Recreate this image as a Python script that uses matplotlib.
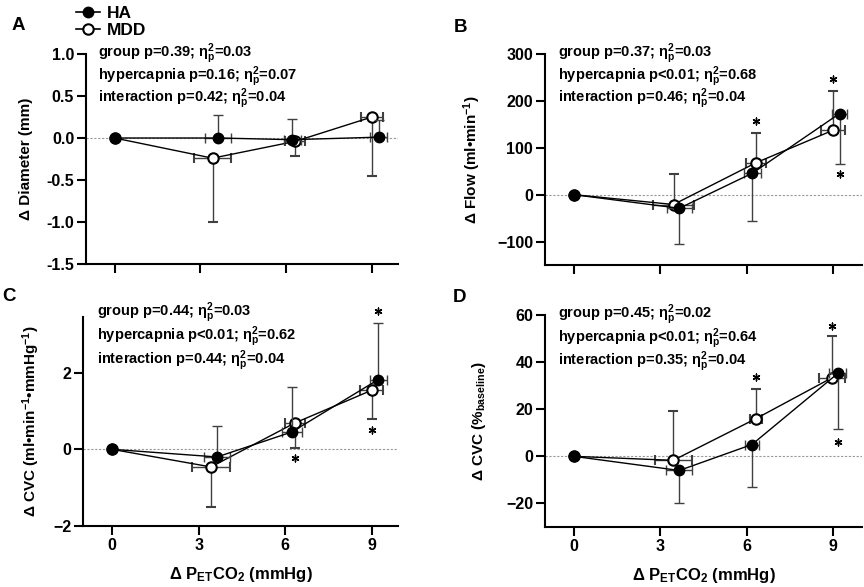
import matplotlib
matplotlib.use("Agg")
import matplotlib.pyplot as plt
from matplotlib.lines import Line2D

plt.rcParams["font.family"] = ["Liberation Sans", "DejaVu Sans"]
plt.rcParams["font.weight"] = "bold"
plt.rcParams["mathtext.fontset"] = "custom"
plt.rcParams["mathtext.rm"] = "Liberation Sans:bold"
plt.rcParams["mathtext.it"] = "Liberation Sans:bold"
plt.rcParams["mathtext.bf"] = "Liberation Sans:bold"
plt.rcParams["mathtext.default"] = "regular"

xticks = [0, 3, 6, 9]

# A: diameter
a_ha_x = [0, 3.62, 6.20, 9.22]
a_ha_y = [0, 0.0, -0.02, 0.01]
a_ha_xerr = [0, 0.46, 0.30, 0.30]
a_ha_up = [0, 0.27, 0.25, 0.20]
a_mdd_x = [0, 3.42, 6.31, 8.99]
a_mdd_y = [0, -0.24, -0.04, 0.25]
a_mdd_xerr = [0, 0.65, 0.35, 0.37]
a_mdd_dn = [0, 0.76, 0.17, 0.70]

# B: flow
b_ha_x = [0, 3.66, 6.20, 9.22]
b_ha_y = [0, -29, 46, 173]
b_ha_xerr = [0, 0.43, 0.30, 0.25]
b_ha_dn = [0, 77, 102, 108]
b_mdd_x = [0, 3.46, 6.32, 8.98]
b_mdd_y = [0, -21, 68, 137]
b_mdd_xerr = [0, 0.70, 0.35, 0.42]
b_mdd_up = [0, 66, 64, 84]
b_star_x = [6.32, 8.98, 9.22]
b_star_y = [157, 246, 45]

# C: CVC absolute
c_ha_x = [0, 3.64, 6.22, 9.22]
c_ha_y = [0, -0.20, 0.45, 1.82]
c_ha_xerr = [0, 0.45, 0.35, 0.30]
c_ha_up = [0, 0.81, 1.18, 1.48]
c_mdd_x = [0, 3.43, 6.34, 8.99]
c_mdd_y = [0, -0.46, 0.69, 1.54]
c_mdd_xerr = [0, 0.67, 0.35, 0.40]
c_mdd_dn = [0, 1.05, 0.66, 0.74]
c_star_x = [6.34, 9.22, 8.99]
c_star_y = [-0.22, 3.6, 0.50]

# D: CVC relative
d_ha_x = [0, 3.66, 6.18, 9.16]
d_ha_y = [0, -6.0, 5.0, 35.2]
d_ha_xerr = [0, 0.45, 0.25, 0.30]
d_ha_dn = [0, 14.0, 18.0, 23.7]
d_mdd_x = [0, 3.45, 6.32, 8.95]
d_mdd_y = [0, -1.7, 16.0, 33.3]
d_mdd_xerr = [0, 0.64, 0.20, 0.45]
d_mdd_up = [0, 21.0, 12.6, 17.9]
d_star_x = [6.32, 8.95, 9.16]
d_star_y = [33.5, 55.5, 6.0]

stats_a = ["group p=0.39; $\\eta_p^2$=0.03", "hypercapnia p=0.16; $\\eta_p^2$=0.07",
           "interaction p=0.42; $\\eta_p^2$=0.04"]
stats_b = ["group p=0.37; $\\eta_p^2$=0.03", "hypercapnia p<0.01; $\\eta_p^2$=0.68",
           "interaction p=0.46; $\\eta_p^2$=0.04"]
stats_c = ["group p=0.44; $\\eta_p^2$=0.03", "hypercapnia p<0.01; $\\eta_p^2$=0.62",
           "interaction p=0.44; $\\eta_p^2$=0.04"]
stats_d = ["group p=0.45; $\\eta_p^2$=0.02", "hypercapnia p<0.01; $\\eta_p^2$=0.64",
           "interaction p=0.35; $\\eta_p^2$=0.04"]

W, H = 864, 587


def rect(l, t, r, b):
    return [l / W, 1 - b / H, (r - l) / W, (b - t) / H]


def style(ax, xlim, ylim, yticks, ylabel, ylab_x, show_x):
    ax.set_xlim(*xlim)
    ax.set_ylim(*ylim)
    ax.set_xticks(xticks)
    ax.set_yticks(yticks)
    for s in ["top", "right"]:
        ax.spines[s].set_visible(False)
    for s in ["left", "bottom"]:
        ax.spines[s].set_linewidth(1.5)
    ax.tick_params(width=1.5, length=6.5, pad=2, labelsize=11.5, direction="out")
    if not show_x:
        ax.set_xticklabels([])
    else:
        ax.set_xlabel("Δ P$_{ET}$CO$_2$ (mmHg)", fontsize=12, fontweight="bold")
        ax.xaxis.set_label_coords(0.5, -0.185)
    ax.set_ylabel(ylabel, fontsize=11, fontweight="bold")
    ax.yaxis.set_label_coords(ylab_x, 0.5)
    ax.axhline(0, color="0.6", lw=0.8, ls=(0, (2, 1.5)), zorder=0)


def draw(ax, hx, hy, hxe, hyerr, mx, my, mxe, myerr):
    ek = dict(ecolor="0.25", elinewidth=1.0, capsize=3.5, capthick=1.0)
    ax.errorbar(mx, my, xerr=mxe, yerr=myerr, color="black", lw=1.0, marker="o",
                ms=7.5, mfc="white", mec="black", mew=1.5, zorder=3, **ek)
    ax.errorbar(hx, hy, xerr=hxe, yerr=hyerr, color="black", lw=1.0, marker="o",
                ms=7.5, mfc="black", mec="black", zorder=4, **ek)


def stats(ax, lines, x, ys):
    for t, y in zip(lines, ys):
        ax.text(x, y, t, transform=ax.transAxes, fontsize=10.5, fontweight="bold",
                va="center", ha="left")


def stars(ax, xs, ys):
    ax.scatter(xs, ys, marker=(6, 2, 0), s=24, color="black", lw=1.0, clip_on=False, zorder=5)


fig = plt.figure(figsize=(W / 100, H / 100), dpi=100)

ax_a = fig.add_axes(rect(86, 54, 398, 264))
style(ax_a, (-1, 9.9), (-1.5, 1.0), [-1.5, -1.0, -0.5, 0.0, 0.5, 1.0], "Δ Diameter (mm)", -0.17, False)
ax_a.set_yticklabels(["-1.5", "-1.0", "-0.5", "0.0", "0.5", "1.0"])
zeros = [0, 0, 0, 0]
draw(ax_a, a_ha_x, a_ha_y, a_ha_xerr, [zeros, a_ha_up],
     a_mdd_x, a_mdd_y, a_mdd_xerr, [a_mdd_dn, zeros])
stats(ax_a, stats_a, 0.038, [1.0, 0.893, 0.786])

ax_b = fig.add_axes(rect(545, 54, 862, 265))
style(ax_b, (-1, 10), (-150, 300), [-100, 0, 100, 200, 300], "Δ Flow (ml•min$^{-1}$)", -0.196, False)
draw(ax_b, b_ha_x, b_ha_y, b_ha_xerr, [b_ha_dn, zeros],
     b_mdd_x, b_mdd_y, b_mdd_xerr, [zeros, b_mdd_up])
stats(ax_b, stats_b, 0.041, [1.0, 0.893, 0.786])
stars(ax_b, b_star_x, b_star_y)

ax_c = fig.add_axes(rect(83, 317, 398, 526))
style(ax_c, (-1, 9.9), (-2, 3.45), [-2, 0, 2], "Δ CVC (ml•min$^{-1}$•mmHg$^{-1}$)", -0.13, True)
draw(ax_c, c_ha_x, c_ha_y, c_ha_xerr, [zeros, c_ha_up],
     c_mdd_x, c_mdd_y, c_mdd_xerr, [c_mdd_dn, zeros])
stats(ax_c, stats_c, 0.044, [1.02, 0.905, 0.79])
stars(ax_c, c_star_x, c_star_y)

ax_d = fig.add_axes(rect(545, 315, 862, 527))
style(ax_d, (-1, 10), (-30, 60), [-20, 0, 20, 40, 60], "Δ CVC (%$_{baseline}$)", -0.18, True)
draw(ax_d, d_ha_x, d_ha_y, d_ha_xerr, [d_ha_dn, zeros],
     d_mdd_x, d_mdd_y, d_mdd_xerr, [zeros, d_mdd_up])
stats(ax_d, stats_d, 0.041, [1.0, 0.89, 0.78])
stars(ax_d, d_star_x, d_star_y)

for letter, px, py in [("A", 18, 25), ("B", 461, 27), ("C", 9, 297), ("D", 459, 298)]:
    fig.text(px / W, 1 - py / H, letter, fontsize=13.5, fontweight="bold", ha="center", va="center")

handles = [Line2D([], [], color="black", lw=1.2, marker="o", ms=7.5, mfc="black", mec="black"),
           Line2D([], [], color="black", lw=1.2, marker="o", ms=7.5, mfc="white", mec="black", mew=1.5)]
fig.legend(handles, ["HA", "MDD"], loc="upper left", bbox_to_anchor=(60 / W, 1 + 10 / H),
           frameon=False, handlelength=1.4, handletextpad=0.4, labelspacing=0.1,
           prop={"size": 12.5, "weight": "bold"})

fig.savefig("out.png", dpi=100)
